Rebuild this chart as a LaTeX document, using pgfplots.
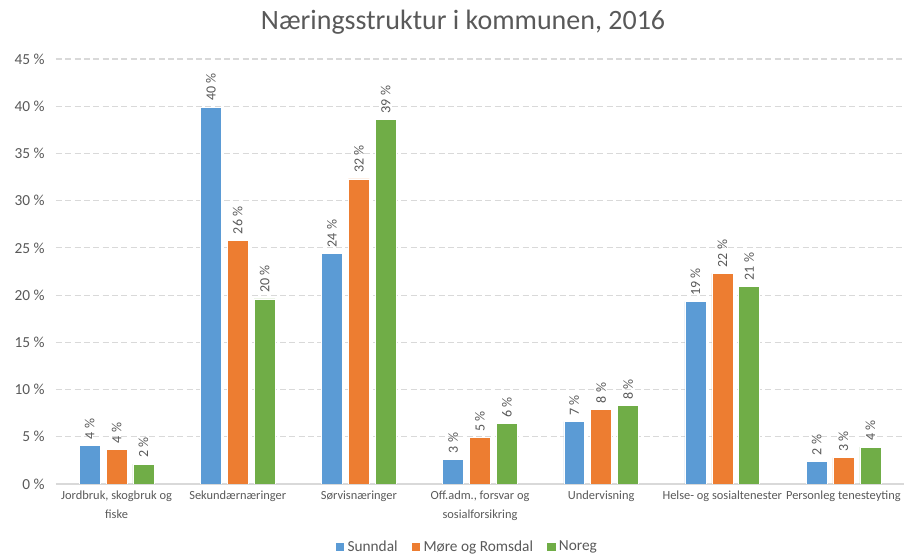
\documentclass[border=0pt]{standalone}
\usepackage{fontspec}
\setmainfont{Carlito}
\usepackage{pgfplots}
\usepackage{pgfplotstable}
\pgfplotsset{compat=1.18}

\definecolor{cBlue}{HTML}{5B9BD5}
\definecolor{cOrange}{HTML}{ED7D31}
\definecolor{cGreen}{HTML}{70AD47}
\definecolor{txt}{HTML}{595959}
\definecolor{gridc}{HTML}{D9D9D9}

% share of employment (%)
\pgfplotstableread{
x sunndal more noreg
0 4.1  3.65 2.1
1 39.9 25.8 19.6
2 24.4 32.3 38.6
3 2.6  4.9  6.4
4 6.6  7.9  8.3
5 19.3 22.3 20.9
6 2.4  2.8  3.9
}\data

\begin{document}
\begin{tikzpicture}
\useasboundingbox (-42pt,-53.25pt) rectangle (636pt,363pt);
\begin{axis}[
  at={(0,0)}, anchor=south west,
  scale only axis,
  width=636pt, height=318.75pt,
  ybar,
  bar width=0.173,
  xmin=-0.5, xmax=6.5,
  ymin=0, ymax=45,
  xtick={0,...,6},
  xticklabels={{Jordbruk, skogbruk og\\fiske},Sekundærnæringer,Sørvisnæringer,{Off.adm., forsvar og\\sosialforsikring},Undervisning,Helse- og sosialtenester,Personleg tenesteyting},
  ytick={0,5,...,45},
  yticklabel={\pgfmathprintnumber[assume math mode=true]{\tick}~\%},
  major tick length=0pt,
  axis x line*=bottom,
  axis y line*=left,
  x axis line style={draw=gridc, line width=1pt},
  y axis line style={draw=none},
  ymajorgrids,
  grid style={draw=gridc, line width=0.8pt, dash pattern=on 4.5pt off 2.5pt},
  yticklabel style={font=\fontsize{11.5}{13}\selectfont, color=txt, xshift=-5pt},
  xticklabel style={font=\fontsize{9.3}{14}\selectfont, color=txt, align=center, yshift=-2pt},
  title={Næringsstruktur i kommunen, 2016},
  title style={at={(0.48,1.068)}, anchor=center, font=\fontsize{21}{24}\selectfont, color=txt},
  nodes near coords={\pgfmathprintnumber[assume math mode=true,fixed,precision=0]{\pgfplotspointmeta}~\%},
  every node near coord/.append style={rotate=90, anchor=west, inner xsep=4.5pt, inner ysep=1pt,
    font=\fontsize{10.5}{12}\selectfont, color=txt},
  legend columns=3,
  legend style={at={(0.485,-0.148)}, anchor=center, draw=none, fill=none,
    font=\fontsize{11.5}{13}\selectfont, text=txt,
    /tikz/every even column/.append style={column sep=8pt}},
  legend image code/.code={\fill[#1] (0pt,-3.5pt) rectangle (7pt,3.5pt);},
]
\addplot[fill=cBlue, draw=white, line width=0.4pt, bar shift=-0.222] table[x=x, y=sunndal] {\data};
\addplot[fill=cOrange, draw=white, line width=0.4pt, bar shift=0] table[x=x, y=more] {\data};
\addplot[fill=cGreen, draw=white, line width=0.4pt, bar shift=0.222] table[x=x, y=noreg] {\data};
\legend{Sunndal, Møre og Romsdal, Noreg}
\end{axis}
\end{tikzpicture}
\end{document}
